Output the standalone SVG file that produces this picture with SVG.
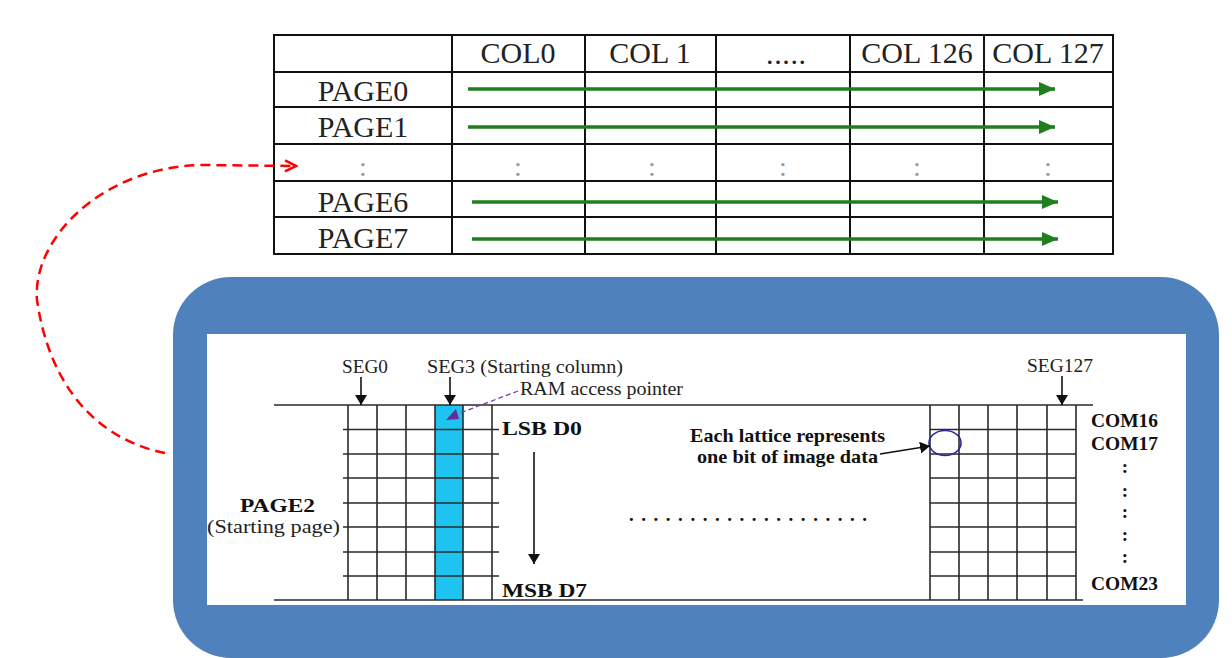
<svg xmlns="http://www.w3.org/2000/svg" width="1232" height="658" viewBox="0 0 1232 658">
<style>
.tl{stroke:#111;stroke-width:2;fill:none}
.tt{font-family:"Liberation Serif",serif;font-size:30px;fill:#222;text-anchor:middle}
.dots{font-family:"Liberation Serif",serif;font-size:28px;fill:#999;text-anchor:middle}
.g{stroke:#1f7f1f;stroke-width:3.5;fill:none}
.gl{stroke:#2a2a2a;stroke-width:1.6;fill:none}
.s{font-family:"Liberation Serif",serif;font-size:18px;fill:#222}
.b{font-family:"Liberation Serif",serif;font-size:19px;font-weight:bold;fill:#111}
.ar{stroke:#111;stroke-width:1.6;fill:none}
</style>
<defs>
<marker id="gh" markerUnits="userSpaceOnUse" viewBox="0 0 16 14" refX="16" refY="7" markerWidth="16" markerHeight="14" orient="auto"><path d="M0,0 L16,7 L0,14 z" fill="#1f7f1f"/></marker>
<marker id="bh" markerUnits="userSpaceOnUse" viewBox="0 0 10 12" refX="10" refY="6" markerWidth="10" markerHeight="12" orient="auto"><path d="M0,0 L10,6 L0,12 z" fill="#111"/></marker>
<marker id="rh" markerUnits="userSpaceOnUse" viewBox="0 0 14 14" refX="12" refY="7" markerWidth="14" markerHeight="14" orient="auto"><path d="M1,1.5 L12,7 L1,12.5" fill="none" stroke="#ff0000" stroke-width="2.5"/></marker>
</defs>
<rect width="1232" height="658" fill="#fff"/>

<g id="ram-table">
<path class="tl" d="M274,35H1113V254H274Z M274,72H1113 M274,107H1113 M274,144H1113 M274,181H1113 M274,217H1113 M452,35V254 M585,35V254 M716,35V254 M850,35V254 M984,35V254"/>
<text class="tt" x="518" y="63">COL0</text>
<text class="tt" x="650" y="63">COL 1</text>
<text class="tt" x="786" y="64" font-size="18" fill="#666" textLength="40" lengthAdjust="spacing">.....</text>
<text class="tt" x="917" y="63">COL 126</text>
<text class="tt" x="1048" y="63">COL 127</text>
<text class="tt" x="363" y="101">PAGE0</text>
<text class="tt" x="363" y="137">PAGE1</text>
<text class="tt" x="363" y="212">PAGE6</text>
<text class="tt" x="363" y="248">PAGE7</text>
<text class="dots" x="363" y="176">:</text>
<text class="dots" x="518" y="176">:</text>
<text class="dots" x="652" y="176">:</text>
<text class="dots" x="783" y="176">:</text>
<text class="dots" x="917" y="176">:</text>
<text class="dots" x="1048" y="176">:</text>
</g>

<g id="frame">
<rect x="173" y="277" width="1046" height="381" rx="58" fill="#4f81bd"/>
<rect x="207" y="334" width="979" height="271" fill="#fff"/>
</g>

<g id="page2-panel">
<rect x="435" y="405" width="28" height="195" fill="#1ec4ef"/>
<path class="gl" d="M274,405H1093 M274,600H1083"/>
<path class="gl" d="M343,429.5H499 M343,454H499 M343,478H499 M343,503H499 M343,527H499 M343,552H499 M343,576H499 M348,405V600 M377,405V600 M406,405V600 M435,405V600 M463,405V600 M492,405V600"/>
<path class="gl" d="M930,429.5H1076 M930,454H1076 M930,478H1076 M930,503H1076 M930,527H1076 M930,552H1076 M930,576H1076 M930,405V600 M959,405V600 M988,405V600 M1017,405V600 M1047,405V600 M1076,405V600"/>
<text class="s" x="342" y="373" textLength="46" lengthAdjust="spacingAndGlyphs">SEG0</text>
<text class="s" x="427" y="373" textLength="196" lengthAdjust="spacingAndGlyphs">SEG3 (Starting column)</text>
<text class="s" x="520" y="395" textLength="163" lengthAdjust="spacingAndGlyphs">RAM access pointer</text>
<text class="s" x="1027" y="372" textLength="66" lengthAdjust="spacingAndGlyphs">SEG127</text>
<text class="b" x="502" y="435" font-size="21" textLength="80" lengthAdjust="spacingAndGlyphs">LSB D0</text>
<text class="b" x="502" y="597" font-size="21" textLength="85" lengthAdjust="spacingAndGlyphs">MSB D7</text>
<text class="b" x="690" y="442" font-size="18" textLength="195" lengthAdjust="spacingAndGlyphs">Each lattice represents</text>
<text class="b" x="697" y="463" font-size="18" textLength="181" lengthAdjust="spacingAndGlyphs">one bit of image data</text>
<text class="b" x="629" y="521" font-size="28" textLength="238" lengthAdjust="spacing">....................</text>
<text class="b" x="240" y="512" font-size="23" textLength="75" lengthAdjust="spacingAndGlyphs">PAGE2</text>
<text class="s" x="207" y="533" textLength="133" lengthAdjust="spacingAndGlyphs">(Starting page)</text>
<text class="b" x="1091" y="427" textLength="67" lengthAdjust="spacingAndGlyphs">COM16</text>
<text class="b" x="1091" y="450" textLength="67" lengthAdjust="spacingAndGlyphs">COM17</text>
<text class="b" x="1125" y="473" text-anchor="middle">:</text>
<text class="b" x="1125" y="497" text-anchor="middle">:</text>
<text class="b" x="1125" y="518" text-anchor="middle">:</text>
<text class="b" x="1125" y="541" text-anchor="middle">:</text>
<text class="b" x="1125" y="563" text-anchor="middle">:</text>
<text class="b" x="1091" y="590" textLength="67" lengthAdjust="spacingAndGlyphs">COM23</text>
<ellipse cx="945" cy="443" rx="16" ry="12.5" fill="none" stroke="#2a2a9a" stroke-width="1.6"/>
</g>

<g id="connectors">
<path class="g" d="M468,89H1055" marker-end="url(#gh)"/>
<path class="g" d="M468,127H1055" marker-end="url(#gh)"/>
<path class="g" d="M472,202H1058" marker-end="url(#gh)"/>
<path class="g" d="M472,239H1058" marker-end="url(#gh)"/>
<path d="M165,453 C100,440 50,390 37,300 C32,240 100,168 200,165 L296,166" fill="none" stroke="#ff0000" stroke-width="2.5" stroke-dasharray="10 6" marker-end="url(#rh)"/>
<path class="ar" d="M361,377V405" marker-end="url(#bh)"/>
<path class="ar" d="M450,377V405" marker-end="url(#bh)"/>
<path class="ar" d="M1062,376V405" marker-end="url(#bh)"/>
<path class="ar" d="M534,452V564" marker-end="url(#bh)"/>
<path class="ar" d="M880,454L930,446" marker-end="url(#bh)"/>
<path d="M518,391L460,413" fill="none" stroke="#7a3fa8" stroke-width="1.3" stroke-dasharray="5 3"/>
<polygon points="446,420 459,419 456,409" fill="#6a2a9a"/>
</g>
</svg>
